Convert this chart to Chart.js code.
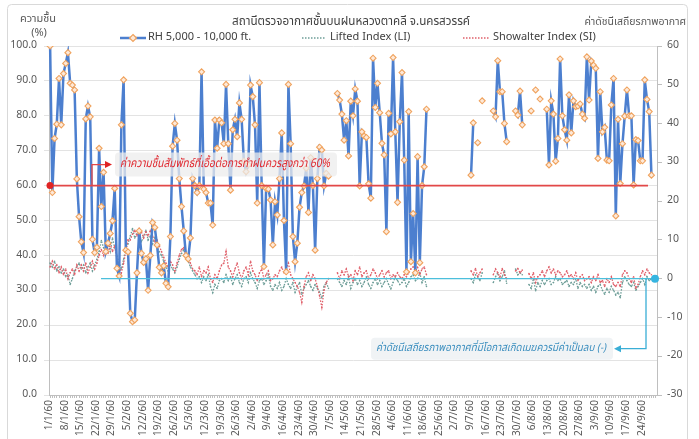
<!DOCTYPE html>
<html>
<head>
<meta charset="utf-8">
<script src="https://cdn.jsdelivr.net/npm/chart.js@4"></script>
<style>
  html, body { margin: 0; padding: 0; background: #fff; }
  canvas { display: block; }
</style>
</head>
<body>
<canvas id="chart" width="699" height="439"></canvas>
<script>
// days per month, Jan..Sep 2560 (2017)
const monthLengths = [31, 28, 31, 30, 31, 30, 31, 31, 30];

// RH 5,000 - 10,000 ft (%), one value per day, null = no sounding
const rhJan = [100, 58, 73.5, 77.6, 90.7, 77.4, 92.1, 95, 98.1, 89.3, 88.8, 87.4, 61.9, 51.1, 43.9, 40.8,
  79.1, 82.8, 79.7, 44.6, 40.8, 42.3, 70.7, 54, 63.8, 41.1, 43.5, 46.3, 49.9, 59.2, 36.3];
const rhFeb = [34.1, 77.4, 90.3, 41.5, 41, 23.4, 21, 21.5, 35, 47, 40.6, 38, 39, 30, 40, 49.4, 48, 43,
  36.6, 35, 37, 32, 31, 45.4, 71.3, 77.8, 73, 62];
const rhMar = [54, 47, 40, 39, 45, 62, 60, 58, 60, 92.6, 59, 58, 55, 55, 48.7, 78.8, 70.7, 78.8, 78, 72,
  89, 72, 58.7, 76, 79, 74, 83.7, 79, 67, 64, 66];
const rhApr = [88.8, 85.5, 77.4, 55, 89.5, 60, 36.8, 59.2, 59, 55.9, 43, 55.4, 51.6, 62, 75.1, 50, 35.3,
  89, 72, 45.4, 38.2, 43.5, 53.8, 58, 59.9, 65, 52.3, 68, 60, 41.5];
const rhMay = [62, 71, 70.2, 59.9, 63.5, 62.7, null, null, null, 86.4, 84.5, 80.5, 73, 78.6, 68.5, 84.2,
  80, 87.7, 84.2, 59.9, 75.4, 74.2, 73.8, 60.5, 56.4, 96.5, 82.4, 89.3, 80.9, 72.1, 68.8];
const rhJun = [46.8, 80.7, 74.8, 96.7, 75.4, 55.2, 78.3, 92.4, 67.3, 35.3, 81.2, 38.2, 52, 35, 68.3, 37.9,
  60, 65.4, 81.9, null, null, null, null, null, null, null, null, null, null, null];
const rhJul = [null, null, null, null, null, null, null, null, 63, 78, null, 72.3, null, 84.3, null, null,
  null, null, 81.4, 79.7, 95.8, 86.9, 86.9, 77.8, 72.6, null, null, null, 81.4, 80.2, 87.1];
const rhAug = [77.4, null, null, null, 81.4, null, 87.4, null, 84.8, null, null, 81.9, 65.9, 84.3, 80.5,
  67, 73.5, 96.3, 80, 76, 73, 86, 75.1, 84.3, 82.6, 82.8, 83.4, 80.5, 79.3, 96.9, 84.5];
const rhSep = [95.7, 94.5, 93.6, 67.8, 86.9, 75.4, 76.7, 67.3, 67.1, 83.1, 90.7, 51.3, 79, 60.6, 72, 79.9,
  87.4, 80, 80, 60.2, 73.2, 72.9, 67.1, 67.1, 90.3, 84.7, 81.2, 63, null, null];

// Lifted Index (LI)
const liJan = [4, 3, 4.5, 2, 3, 1.5, 2.5, 0.5, 1, -1.5, 0, 2, 3, 4, 2.5, 3.5, 1.5, 3, 4, 2, 3.5,
  5, 7, 9.8, 8, 6.5, 9, 7, 10.5, 8, 6];
const liFeb = [4, 2.5, 5, 8, 9, 11, 12.9, 10.5, 11.5, 12, 9.5, 11, 12.5, 10, 11, 9, 10.5, 8,
  7, 6, 4.5, 3, 2, 3.5, 2.5, 1.5, 3, 5];
const liMar = [6.5, 7.5, 6, 4.5, 3, 2, 1, 0, 0.5, -1, 0.5, -0.5, 1, -2, -3.6, -1.5, -2.5, -0.5, 0, -1,
  1, -0.5, 0.5, -1.5, 0, 1, -1, -2, 0, 0.5, -1];
const liApr = [1.5, 0, -1, -2.5, -0.5, 0, -1.5, -0.5, 1, -2, -3, -1.5, -2.5, -1, -3, -2, 0, -1.5, -2.5,
  -1, -3.5, -2, -1, -4, -2.5, -1.5, -0.5, -2, -3, -1.5];
const liMay = [-2.5, -3.5, -5, -2, -1, -2.5, null, null, null, 0, -1, -2, -0.5, -1.5, 0.5, -2.5, -1, 0,
  -1.5, -0.5, -2, -1, 0.5, -1.5, -2.5, -1, 0, -1.5, -0.5, -2, -1];
const liJun = [0, -1.5, -2.6, -1, 0.5, -0.5, -1.5, -1, 0, -2, -1, 0.5, 1, -0.5, 0, 1.5, -1, 0.5, -2,
  null, null, null, null, null, null, null, null, null, null, null];
const liJul = [null, null, null, null, null, null, null, null, 0, -1, 1, 0.5, -0.5, 1.5, null, null,
  null, null, -1, 0.5, 1.5, -0.5, 0.5, 2, -1.2, null, null, null, 2.5, 1, 1.5];
const liAug = [1, null, null, -1.5, -2.5, 0, -3.1, -1, -2, -0.5, -1.5, -0.5, 0, -1.5, -1, 0.5, -0.5, 0,
  -1.5, -1, -0.5, -2, -1, -1.5, 0, -2.5, -1, -2, -1.5, -2.5, -1.5];
const liSep = [-3, -2, -3.5, -2, -1.5, -3, -4, -2.5, -3.5, -2, -3, -4.2, -3.5, -4.9, -1, 0.5, -0.5,
  -1.5, -2, -1, -3, -2, -1, 0, -1.5, 0.5, -0.5, 0, null, null];

// Showalter Index (SI)
const siJan = [3, 4.5, 2.5, 3.5, 1.5, 3, 1, 2.5, 0, 1.5, 2.5, 1, 3.5, 2, 3.5, 2, 4, 1.5, 3, 4.5, 2.5,
  4, 6, 7.5, 6, 8, 6.5, 9, 7, 8.5, 5];
const siFeb = [3, 1.5, 4, 7, 10, 10, 11.5, 12.5, 11, 13, 12, 10.5, 12, 11, 12.5, 11, 9.5, 10,
  8.5, 7, 5.5, 4, 3, 4.5, 3.5, 2, 4, 6];
const siMar = [7.5, 8, 6.5, 5, 4, 2.5, 2, 1, 3, 0.5, 2, 1.5, 3, 0, -1, 1, 0, 2, 3.5, 4, 7, 3, 2, 0.5,
  2.5, 4, 1.5, 0, 2, 3, 1];
const siApr = [4.5, 2, 1, -0.5, 1.5, 2.5, 0, 1, 2, -0.5, 0, 1, 0.5, 2, 3, 1.5, 2.5, 4, 1, 0, -1, -2,
  -3.5, -6.1, -2, 0.5, 1.5, -0.5, 1, 0];
const siMay = [-2, -4.5, -7.4, -3, -1, 0, null, null, null, 1.5, 0, 2, 1, 2.5, 0.5, 1, -0.5, 2, 1, 3,
  0.5, 1.5, 2, 0, 1, 2.5, 1.5, 0, 1, 2, 0.5];
const siJun = [1.5, 2, 0, 1, 0.5, 1.5, 0.5, 0, 1, 0.5, 1.5, 2.5, 3, 2, 2.9, 1, 2.5, 3, 1,
  null, null, null, null, null, null, null, null, null, null, null];
const siJul = [null, null, null, null, null, null, null, null, 2, 1, 2.6, 0.5, 1.5, 2.5, null, null,
  null, null, 1, 2.5, 1.5, 0.5, 2.6, 1, 0, null, null, null, 2, 2.6, 1.5];
const siAug = [2.2, null, null, 1.3, 0, 1.5, -1, 0.5, 1, 2, 0.5, 2, 3, 1.5, 2.5, 1, 2, 1.5, 0.5, 1, 2,
  0.5, 1, 0, 1.5, -0.5, 0.5, 1, -0.5, 0, 0.5];
const siSep = [-1, 0.5, -0.5, 1, -1, -0.5, -2, 0, -1, 0.5, -1.5, -2, -1, -2, 1, 2, 1.5, 0, -1, 0.5,
  -2.5, -1.5, 0.5, 2, 1, 2.5, 1.5, 1, null, null];

// axis ranges
const rhTicks = { min: 0, max: 100, step: 10 };
const indexTicks = { min: -30, max: 60, step: 10 };
const rhLimit = 60;
const indexLimit = 0;

const FONT = '"Noto Sans Thai", "Noto Sans", "DejaVu Sans", sans-serif';

// category labels d/m/60
const dayLabels = [];
monthLengths.forEach((len, m) => {
    for (let d = 1; d <= len; d++) dayLabels.push(d + '/' + (m + 1) + '/60');
});

const rh = [].concat(rhJan, rhFeb, rhMar, rhApr, rhMay, rhJun, rhJul, rhAug, rhSep);
const li = [].concat(liJan, liFeb, liMar, liApr, liMay, liJun, liJul, liAug, liSep);
const si = [].concat(siJan, siFeb, siMar, siApr, siMay, siJun, siJul, siAug, siSep);

const BLUE = '#4c7fcf';
const LI_COLOR = '#6e9e98';
const SI_COLOR = '#e0606a';

function arrowHead(ctx, x, y, dir, color) {
    ctx.fillStyle = color;
    ctx.beginPath();
    ctx.moveTo(x, y);
    ctx.lineTo(x - dir * 7, y - 3.5);
    ctx.lineTo(x - dir * 7, y + 3.5);
    ctx.closePath();
    ctx.fill();
}

function roundBox(ctx, x, y, w, h, r, fill) {
    ctx.fillStyle = fill;
    ctx.beginPath();
    ctx.roundRect(x, y, w, h, r);
    ctx.fill();
}

// frame, titles and legend
const decorations = {
    id: 'decorations',
    beforeDraw(chart) {
        const ctx = chart.ctx;
        ctx.save();
        ctx.strokeStyle = '#d9d9d9';
        ctx.lineWidth = 1;
        ctx.beginPath();
        ctx.roundRect(7.5, 4.5, 680, 445, 4);
        ctx.stroke();
        ctx.restore();
    },
    afterDraw(chart) {
        const ctx = chart.ctx;
        ctx.save();
        ctx.textBaseline = 'middle';

        ctx.fillStyle = '#404040';
        ctx.font = '12.5px ' + FONT;
        ctx.textAlign = 'center';
        ctx.fillText('สถานีตรวจอากาศชั้นบนฝนหลวงตาคลี จ.นครสวรรค์', 351, 22, 238);

        ctx.fillStyle = '#595959';
        ctx.font = '11px ' + FONT;
        ctx.fillText('ความชื้น', 38, 20);
        ctx.fillText('(%)', 39, 34);

        ctx.textAlign = 'right';
        ctx.font = '10.5px ' + FONT;
        ctx.fillText('ค่าดัชนีเสถียรภาพอากาศ', 686, 23);

        // legend
        ctx.textAlign = 'left';
        ctx.font = '11px ' + FONT;
        ctx.fillStyle = '#404040';
        const ly = 38;
        ctx.strokeStyle = BLUE;
        ctx.lineWidth = 2.5;
        ctx.beginPath(); ctx.moveTo(120, ly); ctx.lineTo(146, ly); ctx.stroke();
        ctx.fillStyle = '#fde9d9';
        ctx.strokeStyle = '#f0a35e';
        ctx.lineWidth = 1.2;
        ctx.beginPath();
        ctx.moveTo(133, ly - 3.5); ctx.lineTo(136.5, ly); ctx.lineTo(133, ly + 3.5); ctx.lineTo(129.5, ly);
        ctx.closePath(); ctx.fill(); ctx.stroke();
        ctx.fillStyle = '#404040';
        ctx.fillText('RH 5,000 - 10,000 ft.', 148, ly);

        ctx.lineWidth = 1.3;
        ctx.setLineDash([1.5, 1.5]);
        ctx.strokeStyle = LI_COLOR;
        ctx.beginPath(); ctx.moveTo(302, ly); ctx.lineTo(326, ly); ctx.stroke();
        ctx.strokeStyle = SI_COLOR;
        ctx.beginPath(); ctx.moveTo(463, ly); ctx.lineTo(489, ly); ctx.stroke();
        ctx.setLineDash([]);
        ctx.fillText('Lifted Index (LI)', 330, ly);
        ctx.fillText('Showalter Index (SI)', 493, ly);
        ctx.restore();
    },
    afterDatasetsDraw(chart) {
        const ctx = chart.ctx;
        const area = chart.chartArea;
        const yRh = chart.scales.y.getPixelForValue(rhLimit);
        const yIdx = chart.scales.y1.getPixelForValue(indexLimit);
        ctx.save();

        // RH > 60% line with note
        ctx.strokeStyle = '#e24848';
        ctx.lineWidth = 1.6;
        ctx.beginPath(); ctx.moveTo(area.left + 1, yRh); ctx.lineTo(648, yRh); ctx.stroke();
        ctx.fillStyle = '#e02424';
        ctx.beginPath(); ctx.arc(area.left + 1, yRh, 3.5, 0, Math.PI * 2); ctx.fill();
        ctx.lineWidth = 1.3;
        ctx.beginPath(); ctx.moveTo(92, yRh); ctx.lineTo(92, yRh - 21); ctx.lineTo(106, yRh - 21); ctx.stroke();
        arrowHead(ctx, 112, yRh - 21, 1, '#e02424');
        roundBox(ctx, 115, yRh - 33, 222, 24, 4, 'rgba(236,236,236,0.75)');
        ctx.fillStyle = '#e0282f';
        ctx.font = 'italic 12px ' + FONT;
        ctx.textBaseline = 'middle';
        ctx.fillText('ค่าความชื้นสัมพัทธ์ที่เอื้อต่อการทำฝนควรสูงกว่า 60%', 120, yRh - 21, 210);

        // stability index < 0 line with note
        ctx.strokeStyle = '#4cbfdc';
        ctx.lineWidth = 1.4;
        ctx.beginPath(); ctx.moveTo(101, yIdx); ctx.lineTo(652, yIdx); ctx.stroke();
        ctx.fillStyle = '#36b4e0';
        ctx.beginPath(); ctx.arc(655, yIdx, 4, 0, Math.PI * 2); ctx.fill();
        ctx.strokeStyle = '#3aaed6';
        ctx.lineWidth = 1.3;
        ctx.beginPath(); ctx.moveTo(646, yIdx); ctx.lineTo(646, yIdx + 70); ctx.lineTo(620, yIdx + 70); ctx.stroke();
        arrowHead(ctx, 614, yIdx + 70, -1, '#3aaed6');
        roundBox(ctx, 371, yIdx + 59, 242, 22, 4, 'rgba(236,240,242,0.8)');
        ctx.fillStyle = '#3d8fbf';
        ctx.font = 'italic 11px ' + FONT;
        ctx.fillText('ค่าดัชนีเสถียรภาพอากาศที่มีโอกาสเกิดเมฆควรมีค่าเป็นลบ (-)', 376, yIdx + 70, 230);
        ctx.restore();
    }
};

Chart.defaults.font.family = FONT;
Chart.defaults.font.size = 10;
Chart.defaults.color = '#595959';

new Chart(document.getElementById('chart'), {
    type: 'line',
    data: {
        labels: dayLabels,
        datasets: [{
            label: 'RH 5,000 - 10,000 ft.',
            data: rh,
            yAxisID: 'y',
            borderColor: BLUE,
            borderWidth: 2.5,
            pointStyle: 'rectRot',
            pointRadius: 3,
            pointBackgroundColor: '#fde9d9',
            pointBorderColor: '#f0a35e',
            pointBorderWidth: 1.1,
            tension: 0,
            spanGaps: false,
            order: 1
        }, {
            label: 'Lifted Index (LI)',
            data: li,
            yAxisID: 'y1',
            borderColor: LI_COLOR,
            borderWidth: 1.3,
            borderDash: [1.5, 1.5],
            pointRadius: 0.8,
            pointBackgroundColor: LI_COLOR,
            pointBorderWidth: 0,
            spanGaps: false,
            order: 3
        }, {
            label: 'Showalter Index (SI)',
            data: si,
            yAxisID: 'y1',
            borderColor: SI_COLOR,
            borderWidth: 1.3,
            borderDash: [1.5, 1.5],
            pointRadius: 0.8,
            pointBackgroundColor: SI_COLOR,
            pointBorderWidth: 0,
            spanGaps: false,
            order: 2
        }]
    },
    options: {
        responsive: false,
        animation: false,
        devicePixelRatio: 1,
        layout: { padding: { top: 46, left: 0, right: 0, bottom: 0 } },
        plugins: {
            legend: { display: false },
            title: { display: false },
            tooltip: { enabled: false }
        },
        scales: {
            x: {
                offset: true,
                grid: { display: true, drawOnChartArea: false, tickLength: 3, color: '#bfbfbf' },
                border: { color: '#bfbfbf' },
                ticks: {
                    autoSkip: false,
                    maxRotation: 90,
                    minRotation: 90,
                    padding: 2,
                    font: { size: 10 },
                    callback: (v, i) => (i % 7 === 0 ? dayLabels[i] : '')
                },
                afterFit: s => { s.height = 44; }
            },
            y: {
                position: 'left',
                min: rhTicks.min,
                max: rhTicks.max,
                grid: { color: '#e3e3e3', tickLength: 5 },
                border: { color: '#bfbfbf' },
                ticks: {
                    stepSize: rhTicks.step,
                    padding: 7,
                    font: { size: 10.5 },
                    callback: v => v.toFixed(1)
                },
                afterFit: s => { s.width = 49; }
            },
            y1: {
                position: 'right',
                min: indexTicks.min,
                max: indexTicks.max,
                grid: { drawOnChartArea: false, tickLength: 5, color: '#bfbfbf' },
                border: { color: '#bfbfbf' },
                ticks: {
                    stepSize: indexTicks.step,
                    padding: 5,
                    font: { size: 10.5 }
                },
                afterFit: s => { s.width = 42; }
            }
        }
    },
    plugins: [decorations]
});
</script>
</body>
</html>
